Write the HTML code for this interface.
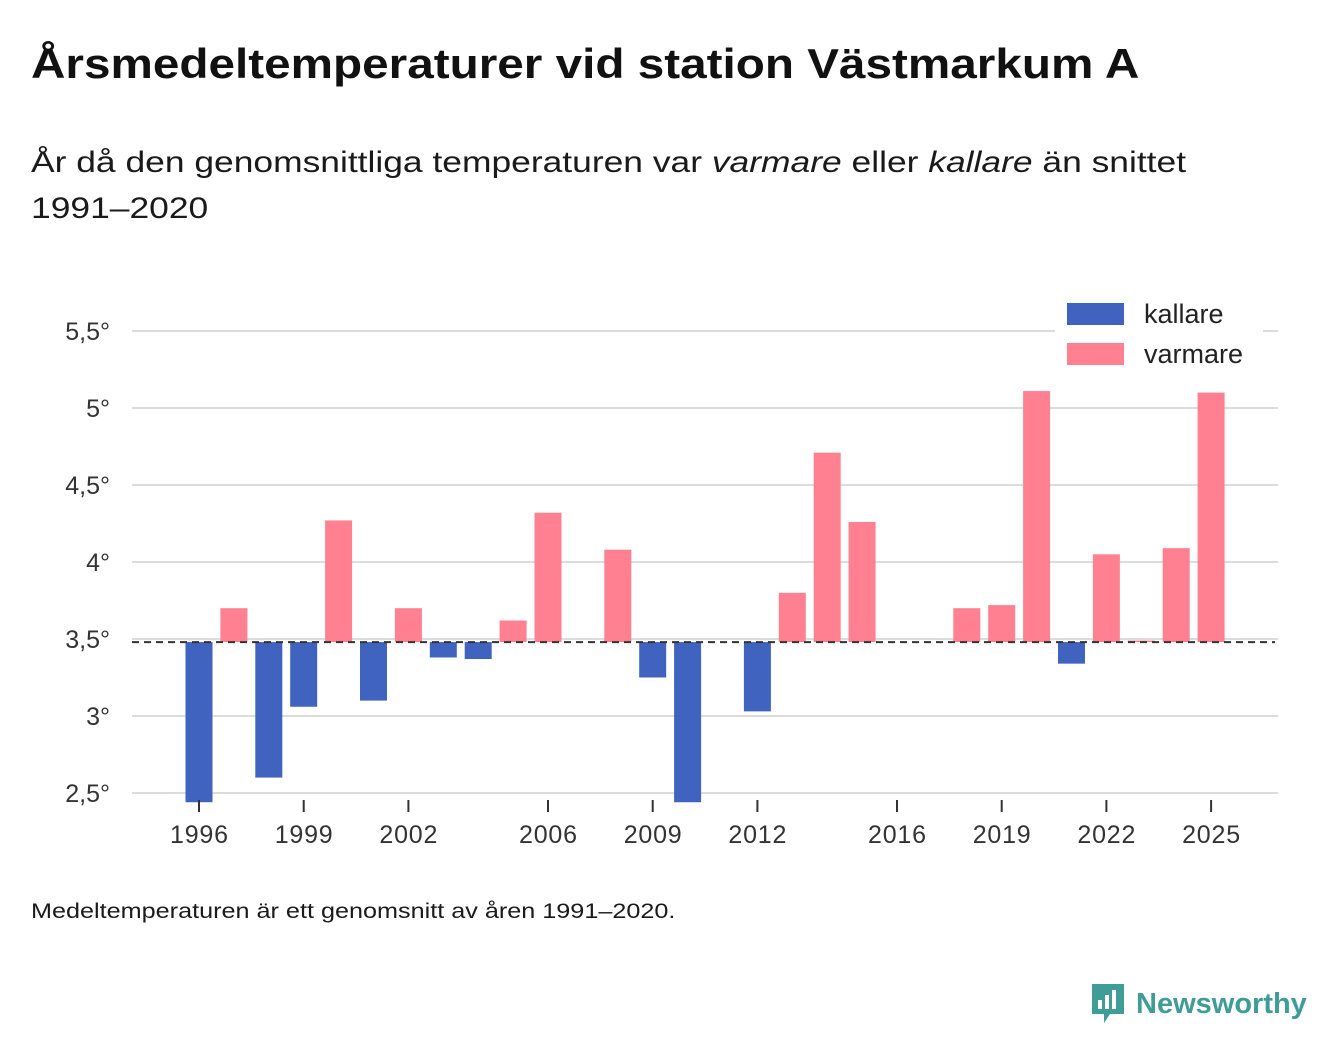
<!DOCTYPE html>
<html><head><meta charset="utf-8">
<style>
body{margin:0;width:1340px;height:1056px;background:#fff;font-family:"Liberation Sans",sans-serif;color:#111;overflow:hidden;position:relative}
#title{position:absolute;left:31px;top:40px;font-size:42px;font-weight:bold;margin:0;transform:scaleX(1.135);transform-origin:left top;white-space:nowrap}
#subtitle{position:absolute;left:31px;top:140px;font-size:30px;line-height:46px;color:#1a1a1a;transform:scaleX(1.18);transform-origin:left top;white-space:nowrap}
#footer{position:absolute;left:31px;top:900px;font-size:21px;color:#1a1a1a;transform:scaleX(1.2);transform-origin:left top;white-space:nowrap}
#logo{position:absolute;left:1090px;top:982px;display:flex;align-items:center;gap:10px;color:#3f9c97;font-size:29px;font-weight:bold}
svg{position:absolute;left:0;top:0}
</style></head><body>
<h1 id="title">Årsmedeltemperaturer vid station Västmarkum A</h1>
<div id="subtitle">År då den genomsnittliga temperaturen var <i>varmare</i> eller <i>kallare</i> än snittet<br>1991–2020</div>
<div id="footer">Medeltemperaturen är ett genomsnitt av åren 1991–2020.</div>
<div id="logo">
<svg width="36" height="44" style="position:static" viewBox="0 0 36 44"><path d="M2 2h32v30H20l-6 9v-9H2z" fill="#3f9c97"/><rect x="8" y="18" width="4" height="9" fill="#fff"/><rect x="15" y="13" width="4" height="14" fill="#fff"/><rect x="22" y="8" width="4" height="19" fill="#fff"/></svg>
<span>Newsworthy</span></div>
<svg id="chart" width="1340" height="1056"></svg>
<script>
const years=[1996,1997,1998,1999,2000,2001,2002,2003,2004,2005,2006,2007,2008,2009,2010,2011,2012,2013,2014,2015,2016,2017,2018,2019,2020,2021,2022,2023,2024,2025];
const temps=[2.44,3.70,2.60,3.06,4.27,3.10,3.70,3.38,3.37,3.62,4.32,3.48,4.08,3.25,2.44,3.48,3.03,3.80,4.71,4.26,3.48,3.48,3.70,3.72,5.11,3.34,4.05,3.49,4.09,5.10];
const yTicks=[2.5,3,3.5,4,4.5,5,5.5];
const yTickLabels=["2,5°","3°","3,5°","4°","4,5°","5°","5,5°"];
const xTicks=[1996,1999,2002,2006,2009,2012,2016,2019,2022,2025];
const mean=3.48;
const NS="http://www.w3.org/2000/svg",svg=document.getElementById('chart');
const y=v=>639-(v-3.5)*154;
const x=yr=>199+(yr-1996)*34.9;
function mk(t,a){const e=document.createElementNS(NS,t);for(const k in a)e.setAttribute(k,a[k]);svg.appendChild(e);return e;}
yTicks.forEach((v,i)=>{
 const g=mk('line',{x1:132,x2:1278,y1:y(v),y2:y(v),stroke:'#dcdcdc','stroke-width':2});
 
 
 const t=mk('text',{x:110,y:y(v)+9,'text-anchor':'end','font-size':25,fill:'#333'});
 t.textContent=yTickLabels[i];
 
 
});
years.forEach((yr,i)=>{
 const v=Math.max(temps[i],2.435);
 const top=Math.min(y(v),y(mean)),h=Math.abs(y(v)-y(mean));
 const r=mk('rect',{x:x(yr)-13.5,y:top,width:27,height:h,fill:temps[i]<mean?'#4063bf':'#ff8191'});
 
 
});
const d=mk('line',{x1:132,x2:1275,y1:y(mean),y2:y(mean),stroke:'#333','stroke-width':2,'stroke-dasharray':'7,5'});


xTicks.forEach(yr=>{
 const l=mk('line',{x1:x(yr),x2:x(yr),y1:800,y2:812,stroke:'#333','stroke-width':2});
 
 
 const t=mk('text',{x:x(yr),y:843,'text-anchor':'middle','font-size':25,fill:'#333','textLength':58});
 t.textContent=yr;
 
 
});
const bg=mk('rect',{x:1055,y:292,width:208,height:84,fill:'#fff'});


[['kallare','#4063bf',303],['varmare','#ff8191',343]].forEach(([n,c,yy])=>{
 const r=mk('rect',{x:1067,y:yy,width:57,height:22,fill:c});
 
 
 const t=mk('text',{x:1144,y:yy+20,'font-size':27,fill:'#222'});
 t.textContent=n;
 
 
});
</script>
</body></html>
